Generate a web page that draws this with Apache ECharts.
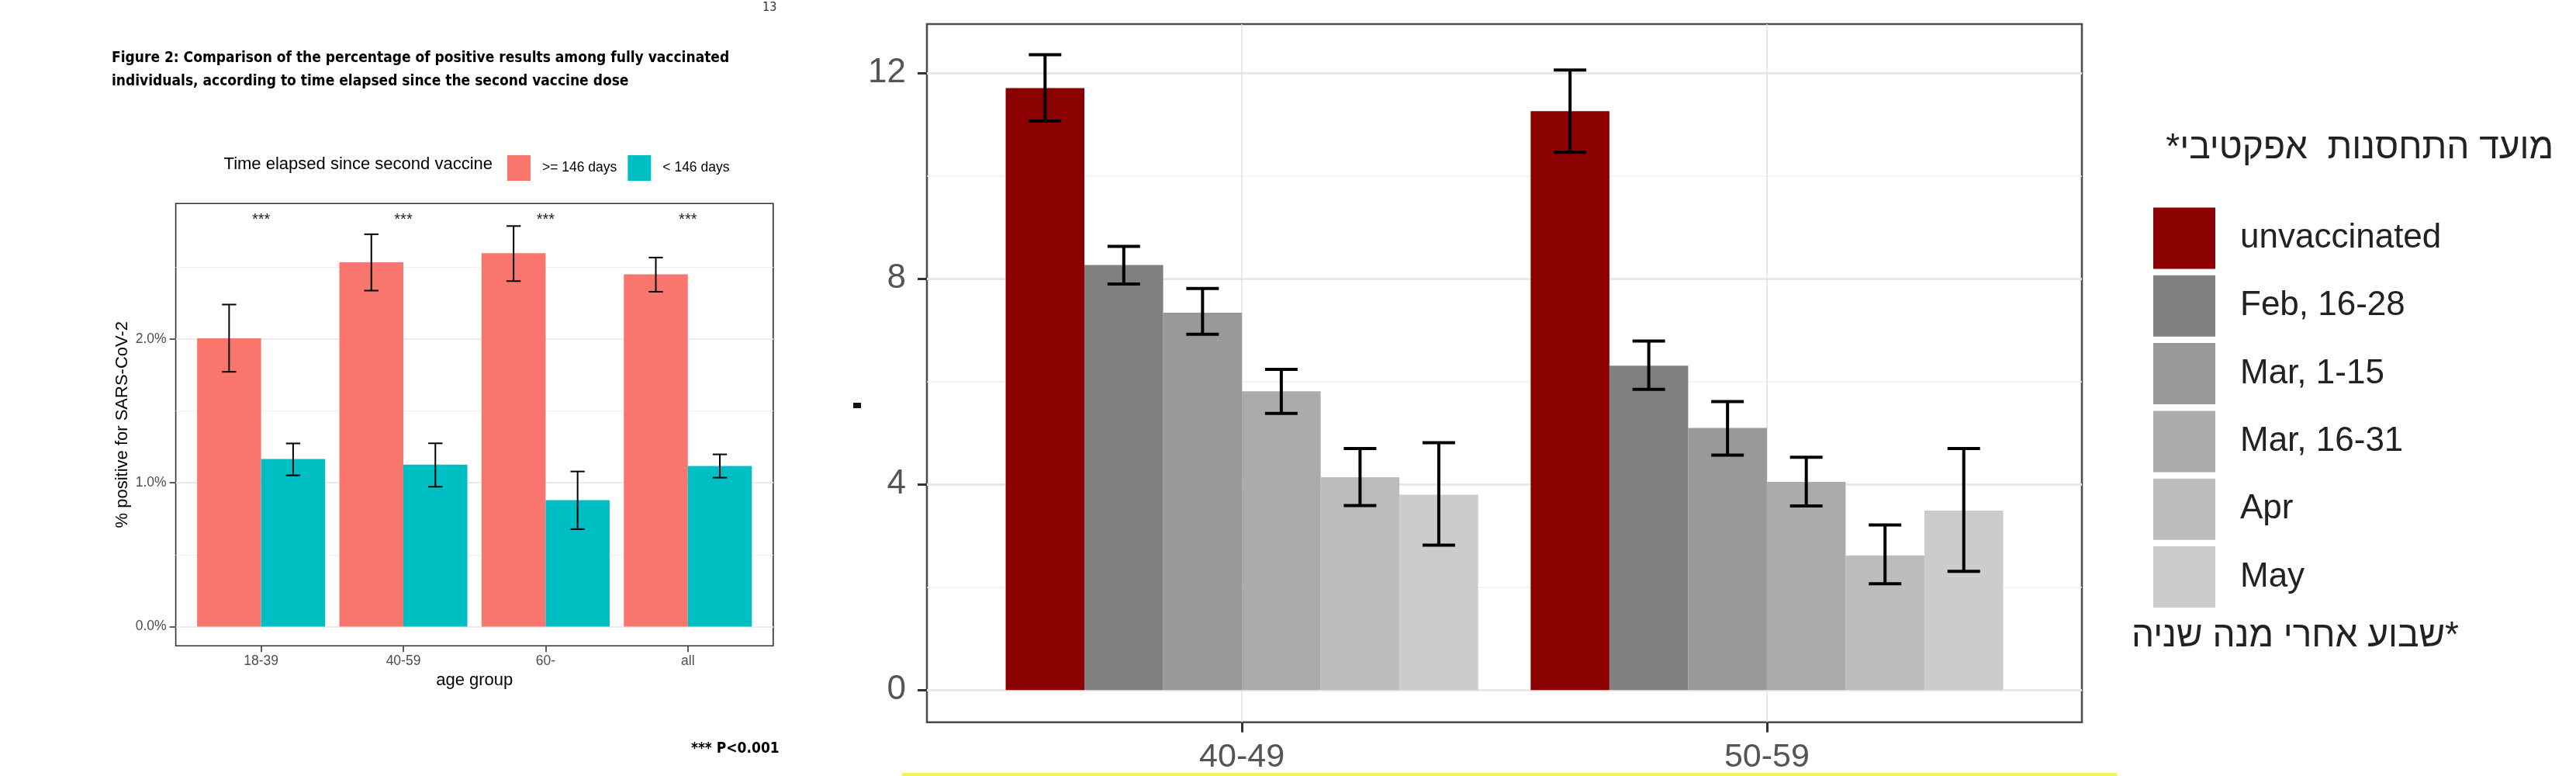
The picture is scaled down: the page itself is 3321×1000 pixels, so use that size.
<!DOCTYPE html>
<html>
<head>
<meta charset="utf-8">
<script src="https://cdn.jsdelivr.net/npm/echarts@6/dist/echarts.min.js"></script>
<style>
html,body{margin:0;padding:0;background:#fff;}
#chart{width:3321px;height:1000px;}
</style>
</head>
<body>
<div id="chart"></div>
<script>
// ---------- Left chart data ----------
const leftCategories = ['18-39', '40-59', '60-', 'all'];
const leftSeriesNames = ['>= 146 days', '< 146 days'];
const olderValues = [2.005, 2.534, 2.597, 2.45];
const olderLow = [1.772, 2.337, 2.403, 2.329];
const olderHigh = [2.24, 2.729, 2.786, 2.567];
const recentValues = [1.166, 1.126, 0.880, 1.117];
const recentLow = [1.052, 0.973, 0.678, 1.036];
const recentHigh = [1.274, 1.275, 1.079, 1.198];
const sigLabels = ['***', '***', '***', '***'];
const sigLevel = 2.83;
const leftTicks = [0, 1, 2];
const leftMinorTicks = [0.5, 1.5, 2.5];

// ---------- Right chart data ----------
const rightCategories = ['40-49', '50-59'];
const rightSeriesNames = ['unvaccinated', 'Feb, 16-28', 'Mar, 1-15', 'Mar, 16-31', 'Apr', 'May'];
const rightValues = [[11.71, 11.26], [8.27, 6.31], [7.34, 5.10], [5.81, 4.05], [4.14, 2.62], [3.80, 3.49]];
const rightLow = [[11.07, 10.46], [7.90, 5.85], [6.92, 4.57], [5.38, 3.58], [3.59, 2.07], [2.82, 2.31]];
const rightHigh = [[12.36, 12.06], [8.63, 6.79], [7.81, 5.61], [6.24, 4.53], [4.70, 3.21], [4.81, 4.70]];
const rightTicks = [0, 4, 8, 12];
const rightMinorTicks = [2, 6, 10];

// ---------- styles ----------
const leftColors = ['#F8766D', '#00BFC4'];
const rightColors = ['#8B0000', '#808080', '#999999', '#ABABAB', '#BCBCBC', '#CCCCCC'];
const SANS = "'Liberation Sans', Arial, sans-serif";
const NARROW = "'Liberation Sans Narrow', 'DejaVu Sans Condensed', 'Liberation Sans', sans-serif";

function barRender(offset, halfW) {
  return function (params, api) {
    const x = api.value(0) + offset;
    const v = api.value(1);
    const p0 = api.coord([x - halfW, v]);
    const p1 = api.coord([x + halfW, 0]);
    return {
      type: 'rect',
      shape: { x: p0[0], y: p0[1], width: p1[0] - p0[0], height: p1[1] - p0[1] },
      style: { fill: api.visual('color') }
    };
  };
}
function errRender(offset, capHalf, lw) {
  return function (params, api) {
    const x = api.value(0) + offset;
    const lo = api.value(1), hi = api.value(2);
    const a = api.coord([x, hi]), b = api.coord([x, lo]);
    const cl = api.coord([x - capHalf, hi]), cr = api.coord([x + capHalf, hi]);
    const dl = api.coord([x - capHalf, lo]), dr = api.coord([x + capHalf, lo]);
    const st = { stroke: '#000', lineWidth: lw };
    return {
      type: 'group',
      children: [
        { type: 'line', shape: { x1: a[0], y1: a[1], x2: b[0], y2: b[1] }, style: st },
        { type: 'line', shape: { x1: cl[0], y1: cl[1], x2: cr[0], y2: cr[1] }, style: st },
        { type: 'line', shape: { x1: dl[0], y1: dl[1], x2: dr[0], y2: dr[1] }, style: st }
      ]
    };
  };
}

const series = [];
// left bars
const leftVals = [olderValues, recentValues];
const leftLo = [olderLow, recentLow];
const leftHi = [olderHigh, recentHigh];
leftSeriesNames.forEach((name, s) => {
  const off = s === 0 ? -0.225 : 0.225;
  series.push({
    type: 'custom', name: name, xAxisIndex: 0, yAxisIndex: 0,
    itemStyle: { color: leftColors[s] },
    renderItem: barRender(off, 0.225),
    encode: { x: 0, y: 1 },
    data: leftVals[s].map((v, i) => [i + 1, v]),
    z: 2
  });
});
leftSeriesNames.forEach((name, s) => {
  const off = s === 0 ? -0.225 : 0.225;
  series.push({
    type: 'custom', name: 'err ' + name, xAxisIndex: 0, yAxisIndex: 0,
    renderItem: errRender(off, 0.05, 2),
    encode: { x: 0, y: [1, 2] },
    data: leftLo[s].map((v, i) => [i + 1, v, leftHi[s][i]]),
    z: 3
  });
});
series.push({
  type: 'custom', name: 'sig', xAxisIndex: 0, yAxisIndex: 0,
  renderItem: function (params, api) {
    const p = api.coord([api.value(0), api.value(1)]);
    return {
      type: 'text',
      style: { text: sigLabels[params.dataIndex], x: p[0], y: p[1], align: 'center', verticalAlign: 'middle',
        fontSize: 20, fontFamily: SANS, fill: '#222' }
    };
  },
  encode: { x: 0, y: 1 },
  data: sigLabels.map((t, i) => [i + 1, sigLevel]),
  z: 3
});

// right bars
rightSeriesNames.forEach((name, s) => {
  const off = -0.45 + 0.15 * s + 0.075;
  series.push({
    type: 'custom', name: name, xAxisIndex: 1, yAxisIndex: 2,
    itemStyle: { color: rightColors[s] },
    renderItem: barRender(off, 0.075),
    encode: { x: 0, y: 1 },
    data: rightValues[s].map((v, i) => [i + 1, v]),
    z: 2
  });
});
rightSeriesNames.forEach((name, s) => {
  const off = -0.45 + 0.15 * s + 0.075;
  series.push({
    type: 'custom', name: 'err ' + name, xAxisIndex: 1, yAxisIndex: 2,
    renderItem: errRender(off, 0.031, 4),
    encode: { x: 0, y: [1, 2] },
    data: rightLow[s].map((v, i) => [i + 1, v, rightHigh[s][i]]),
    z: 3
  });
});

const option = {
  animation: false,
  backgroundColor: '#fff',
  grid: [
    { left: 226.6, top: 262.2, width: 770.2, height: 570, show: true, borderColor: '#333', borderWidth: 1.6, backgroundColor: 'transparent' },
    { left: 1195, top: 31, width: 1489, height: 899.7, show: true, borderColor: '#4d4d4d', borderWidth: 2.6, backgroundColor: 'transparent' }
  ],
  xAxis: [
    {
      gridIndex: 0, type: 'value', min: 0.4, max: 4.6,
      axisLine: { show: false, onZero: false },
      axisTick: { show: true, length: 8, lineStyle: { color: '#333', width: 1.6 }, customValues: [1, 2, 3, 4] },
      axisLabel: { customValues: [1, 2, 3, 4], formatter: v => leftCategories[Math.round(v) - 1], fontSize: 17.5, fontFamily: SANS, color: '#4D4D4D', margin: 11 },
      splitLine: { show: false },
      name: 'age group', nameLocation: 'middle', nameGap: 33,
      nameTextStyle: { fontSize: 22, fontFamily: SANS, color: '#000' }
    },
    {
      gridIndex: 1, type: 'value', min: 0.4, max: 2.6,
      axisLine: { show: false, onZero: false },
      axisTick: { show: true, length: 13, lineStyle: { color: '#333', width: 3 }, customValues: [1, 2] },
      axisLabel: { customValues: [1, 2], formatter: v => rightCategories[Math.round(v) - 1], fontSize: 43, fontFamily: SANS, color: '#555', margin: 24 },
      splitLine: { show: true, lineStyle: { color: '#e2e2e2', width: 1.5 } }
    }
  ],
  yAxis: [
    {
      gridIndex: 0, type: 'value', min: -0.1333, max: 2.943,
      axisLine: { show: false, onZero: false },
      axisTick: { show: true, length: 8, lineStyle: { color: '#333', width: 1.6 }, customValues: leftTicks },
      axisLabel: { customValues: leftTicks, formatter: v => v.toFixed(1) + '%', fontSize: 17.5, fontFamily: SANS, color: '#4D4D4D', margin: 12 },
      splitLine: { show: true, lineStyle: { color: '#ebebeb', width: 2 } },
      name: '% positive for SARS-CoV-2', nameLocation: 'middle', nameGap: 58, nameRotate: 90,
      nameTextStyle: { fontSize: 22, fontFamily: SANS, color: '#000' }
    },
    {
      gridIndex: 0, type: 'value', min: -0.1333, max: 2.943, position: 'left',
      axisLine: { show: false, onZero: false },
      axisTick: { show: false, customValues: leftMinorTicks },
      axisLabel: { show: false, customValues: leftMinorTicks },
      splitLine: { show: true, lineStyle: { color: '#f0f0f0', width: 1.2 } }
    },
    {
      gridIndex: 1, type: 'value', min: -0.625, max: 12.955,
      axisLine: { show: false, onZero: false },
      axisTick: { show: true, length: 12, lineStyle: { color: '#333', width: 3 }, customValues: rightTicks },
      axisLabel: { customValues: rightTicks, fontSize: 44, fontFamily: SANS, color: '#555', margin: 27 },
      splitLine: { show: true, lineStyle: { color: '#e8e8e8', width: 3 } }
    },
    {
      gridIndex: 1, type: 'value', min: -0.625, max: 12.955, position: 'left',
      axisLine: { show: false, onZero: false },
      axisTick: { show: false, customValues: rightMinorTicks },
      axisLabel: { show: false, customValues: rightMinorTicks },
      splitLine: { show: true, lineStyle: { color: '#f1f1f1', width: 1.5 } }
    }
  ],
  legend: [
    {
      data: leftSeriesNames, orient: 'horizontal', left: 649, top: 195,
      itemWidth: 30, itemHeight: 33, itemGap: 14, icon: 'rect', selectedMode: false,
      textStyle: { fontSize: 17.5, fontFamily: SANS, color: '#000', padding: [0, 0, 0, 10] }
    },
    {
      data: rightSeriesNames, orient: 'vertical', left: 2771, top: 262.5,
      itemWidth: 80, itemHeight: 79, itemGap: 8.3, icon: 'rect', selectedMode: false,
      textStyle: { fontSize: 44, fontFamily: SANS, color: '#222', padding: [0, 0, 0, 27] }
    }
  ],
  graphic: [
    { type: 'text', left: 983, top: 2, style: { text: '13', fontSize: 16, fontFamily: NARROW, fill: '#333' } },
    { type: 'text', left: 144, top: 66, style: { text: 'Figure 2: Comparison of the percentage of positive results among fully vaccinated', fontSize: 19, fontWeight: 'bold', fontFamily: NARROW, fill: '#000' } },
    { type: 'text', left: 144, top: 96, style: { text: 'individuals, according to time elapsed since the second vaccine dose', fontSize: 19, fontWeight: 'bold', fontFamily: NARROW, fill: '#000' } },
    { type: 'text', x: 635, y: 212, style: { text: 'Time elapsed since second vaccine', align: 'right', verticalAlign: 'middle', fontSize: 22, fontFamily: SANS, fill: '#000' } },
    { type: 'text', left: 891, top: 956, style: { text: '*** P<0.001', fontSize: 19, fontWeight: 'bold', fontFamily: NARROW, fill: '#000' } },
    { type: 'text', x: 3292, y: 191, style: { text: 'מועד התחסנות  אפקטיבי*\u200F', align: 'right', verticalAlign: 'middle', fontSize: 46, fontFamily: SANS, fill: '#222' } },
    { type: 'text', x: 3170, y: 820, style: { text: '\u200F*שבוע אחרי מנה שניה', align: 'right', verticalAlign: 'middle', fontSize: 46, fontFamily: SANS, fill: '#222' } },
    { type: 'rect', shape: { x: 1163, y: 996, width: 1566, height: 4 }, style: { fill: '#f2f25a' } },
    { type: 'rect', shape: { x: 1100, y: 519, width: 10, height: 7 }, style: { fill: '#111' } }
  ],
  series: series
};

const chart = echarts.init(document.getElementById('chart'));
chart.setOption(option);
</script>
</body>
</html>
